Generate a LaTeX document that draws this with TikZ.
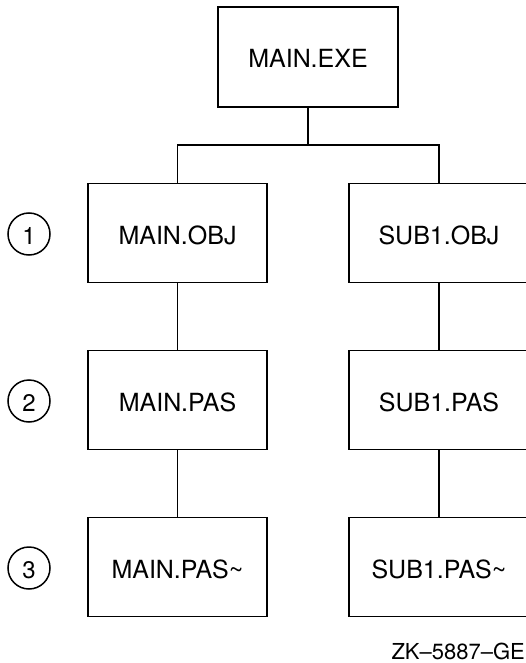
\documentclass[tikz,border=0pt]{standalone}
\usepackage{fontspec}
\setmainfont{TeX Gyre Heros}
\begin{document}
\begin{tikzpicture}[x=1pt,y=-1pt,
  filebox/.style={draw,line width=1.8pt,minimum width=180pt,minimum height=99pt,
    inner sep=0pt,font=\fontsize{25}{25}\selectfont,text height=22pt,text depth=0pt},
  wire/.style={line width=1.8pt},
  stepmark/.style={draw,circle,line width=1.5pt,minimum size=42pt,inner sep=0pt,
    font=\fontsize{24}{24}\selectfont,text height=21pt,text depth=0pt}]
  \clip (0,0) rectangle (526,663);

  % executable at the top
  \node[filebox,minimum height=100pt] (exe) at (308,57) {MAIN.EXE};

  % left column: main program
  \node[filebox,minimum width=179pt] (mobj)  at (177.5,233) {MAIN.OBJ};
  \node[filebox,minimum width=179pt] (mpas)  at (177.5,400) {MAIN.PAS};
  \node[filebox,minimum width=179pt] (mpast) at (177.5,567) {MAIN.PAS\textasciitilde};

  % right column: subroutine
  \node[filebox] (sobj)  at (439,233) {SUB1.OBJ};
  \node[filebox] (spas)  at (439,400) {SUB1.PAS};
  \node[filebox] (spast) at (439,567) {SUB1.PAS\textasciitilde};

  % step markers
  \node[stepmark] (s1) at (29,234) {1};
  \node[stepmark] (s2) at (29,401) {2};
  \node[stepmark] (s3) at (29,568) {3};

  % tree connectors
  \coordinate (j) at (308,145);
  \draw[wire] (exe.south) -- (j);
  \draw[wire] (mobj.north) |- (j) -| (sobj.north);
  \draw[wire] (mobj) -- (mpas);
  \draw[wire] (mpas) -- (mpast);
  \draw[wire] (sobj) -- (spas);
  \draw[wire] (spas) -- (spast);

  % figure tag
  \node[anchor=base east,inner sep=0pt,font=\fontsize{22}{22}\selectfont] (tag)
    at (525,659) {ZK--5887--GE};
\end{tikzpicture}
\end{document}
